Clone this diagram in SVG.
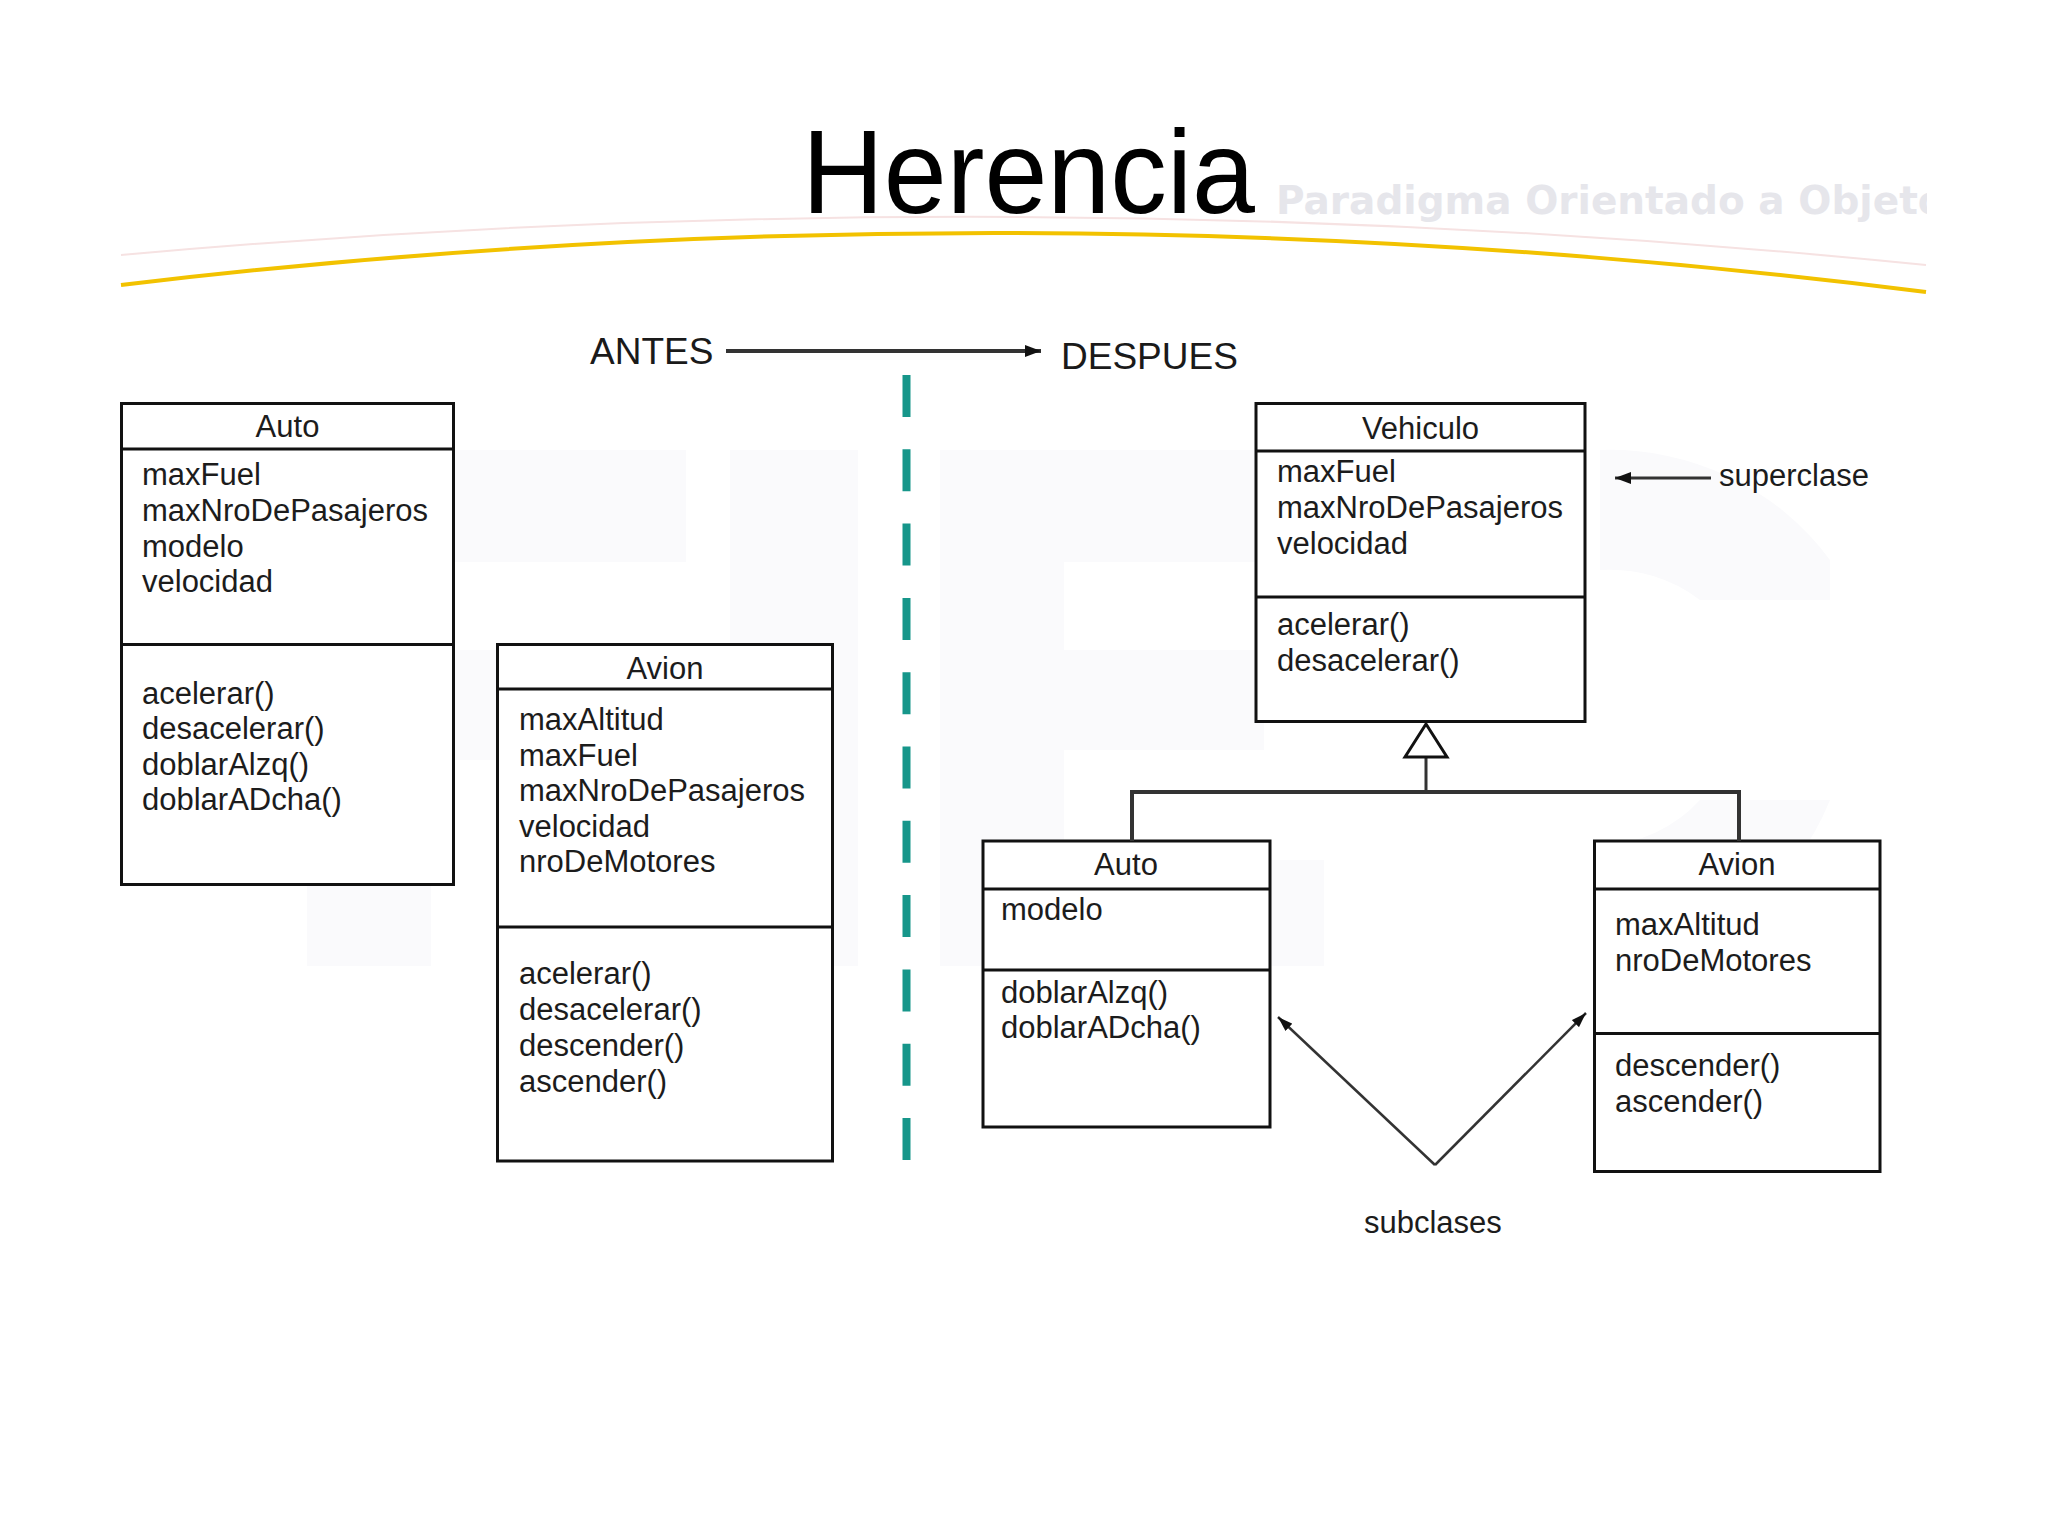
<svg xmlns="http://www.w3.org/2000/svg" width="2048" height="1536" viewBox="0 0 2048 1536">
<defs>
<style>
.box{fill:#ffffff;stroke:#111;stroke-width:3}
.div{stroke:#111;stroke-width:3}
.t{font-family:"Liberation Sans",Arial,sans-serif;font-size:31px;fill:#1c1c1c}
.h{text-anchor:middle}
.lbl{font-family:"Liberation Sans",Arial,sans-serif;font-size:37px;fill:#1a1a1a}
.wm{fill:#fafafc}
.con{stroke:#333;fill:none}
</style>
<marker id="arr" viewBox="0 0 16 12" refX="16" refY="6" markerWidth="16" markerHeight="12" markerUnits="userSpaceOnUse" orient="auto">
<path d="M0,0 L16,6 L0,12 z" fill="#111"/>
</marker>
<marker id="arrs" viewBox="0 0 15 10" refX="15" refY="5" markerWidth="15" markerHeight="10" markerUnits="userSpaceOnUse" orient="auto">
<path d="M0,0 L15,5 L0,10 z" fill="#111"/>
</marker>
<clipPath id="subclip"><rect x="1200" y="150" width="727" height="100"/></clipPath>
</defs>
<rect width="2048" height="1536" fill="#ffffff"/>
<g id="watermark">
<rect class="wm" x="307" y="450" width="124" height="516"/>
<rect class="wm" x="431" y="450" width="255" height="112"/>
<rect class="wm" x="431" y="650" width="170" height="110"/>
<rect class="wm" x="730" y="450" width="128" height="516"/>
<rect class="wm" x="940" y="450" width="124" height="516"/>
<rect class="wm" x="1064" y="450" width="260" height="112"/>
<rect class="wm" x="1064" y="650" width="200" height="100"/>
<rect class="wm" x="1064" y="860" width="260" height="106"/>
<path class="wm" d="M1600,450 A270,260 0 0 1 1830,560 L1830,600 L1700,600 A140,130 0 0 0 1600,570 Z"/>
<path class="wm" d="M1700,800 L1830,800 A270,260 0 0 1 1600,966 L1600,846 A140,130 0 0 0 1700,800 Z"/>
</g>
<g id="header">
<path d="M121,255 Q1020,174 1926,265" fill="none" stroke="#f6e2e2" stroke-width="2"/>
<path d="M121,285 Q1020,177.5 1926,292" fill="none" stroke="#f2c200" stroke-width="4"/>
<text x="802" y="213" font-family="Liberation Sans, Arial, sans-serif" font-size="118" textLength="453" lengthAdjust="spacingAndGlyphs" fill="#000">Herencia</text>
<text x="1276" y="214" clip-path="url(#subclip)" font-family="DejaVu Sans, Verdana, sans-serif" font-weight="bold" font-size="39" fill="#e6e6eb">Paradigma Orientado a Objetos</text>
</g>
<g id="antes-label"><text class="lbl" x="590" y="364">ANTES</text></g>
<g id="despues-label"><text class="lbl" x="1061" y="369" font-size="36">DESPUES</text></g>
<g id="separator">
<line x1="906.5" y1="375" x2="906.5" y2="1160" stroke="#16968a" stroke-width="8" stroke-dasharray="42 32.3"/>
</g>
<g id="auto-antes">
<rect class="box" x="121.5" y="403.5" width="332" height="481"/>
<line class="div" x1="121.5" y1="449" x2="453.5" y2="449"/>
<line class="div" x1="121.5" y1="644.5" x2="453.5" y2="644.5"/>
<text class="t h" x="287.5" y="437">Auto</text>
<text class="t" x="142" y="485">maxFuel</text>
<text class="t" x="142" y="521">maxNroDePasajeros</text>
<text class="t" x="142" y="557">modelo</text>
<text class="t" x="142" y="592">velocidad</text>
<text class="t" x="142" y="704">acelerar()</text>
<text class="t" x="142" y="739">desacelerar()</text>
<text class="t" x="142" y="775">doblarAlzq()</text>
<text class="t" x="142" y="810">doblarADcha()</text>
</g>
<g id="avion-antes">
<rect class="box" x="497.5" y="644.5" width="335" height="516.5"/>
<line class="div" x1="497.5" y1="689" x2="832.5" y2="689"/>
<line class="div" x1="497.5" y1="927" x2="832.5" y2="927"/>
<text class="t h" x="665" y="679">Avion</text>
<text class="t" x="519" y="730">maxAltitud</text>
<text class="t" x="519" y="765.5">maxFuel</text>
<text class="t" x="519" y="801">maxNroDePasajeros</text>
<text class="t" x="519" y="837">velocidad</text>
<text class="t" x="519" y="872">nroDeMotores</text>
<text class="t" x="519" y="984">acelerar()</text>
<text class="t" x="519" y="1020">desacelerar()</text>
<text class="t" x="519" y="1056">descender()</text>
<text class="t" x="519" y="1091.5">ascender()</text>
</g>
<g id="vehiculo">
<rect class="box" x="1256" y="403.5" width="329" height="318"/>
<line class="div" x1="1256" y1="451" x2="1585" y2="451"/>
<line class="div" x1="1256" y1="597" x2="1585" y2="597"/>
<text class="t h" x="1420.5" y="439">Vehiculo</text>
<text class="t" x="1277" y="482">maxFuel</text>
<text class="t" x="1277" y="518">maxNroDePasajeros</text>
<text class="t" x="1277" y="554">velocidad</text>
<text class="t" x="1277" y="635">acelerar()</text>
<text class="t" x="1277" y="671">desacelerar()</text>
</g>
<g id="auto-despues">
<rect class="box" x="983" y="841" width="287" height="286"/>
<line class="div" x1="983" y1="889" x2="1270" y2="889"/>
<line class="div" x1="983" y1="970" x2="1270" y2="970"/>
<text class="t h" x="1126" y="875">Auto</text>
<text class="t" x="1001" y="920">modelo</text>
<text class="t" x="1001" y="1002.5">doblarAlzq()</text>
<text class="t" x="1001" y="1038">doblarADcha()</text>
</g>
<g id="avion-despues">
<rect class="box" x="1594.5" y="841" width="285.5" height="330.5"/>
<line class="div" x1="1594.5" y1="889" x2="1880" y2="889"/>
<line class="div" x1="1594.5" y1="1033.5" x2="1880" y2="1033.5"/>
<text class="t h" x="1737" y="875">Avion</text>
<text class="t" x="1615" y="935">maxAltitud</text>
<text class="t" x="1615" y="970.5">nroDeMotores</text>
<text class="t" x="1615" y="1076">descender()</text>
<text class="t" x="1615" y="1111.5">ascender()</text>
</g>
<g id="superclase-label"><text class="t" x="1719" y="486">superclase</text></g>
<g id="subclases-label"><text class="t" x="1364" y="1233">subclases</text></g>
<g id="connectors">
<line class="con" x1="726" y1="351" x2="1041" y2="351" stroke-width="4" marker-end="url(#arr)"/>
<line class="con" x1="1711" y1="478" x2="1615" y2="478" stroke-width="3" marker-end="url(#arr)"/>
<line class="con" x1="1426" y1="757" x2="1426" y2="792" stroke="#111" stroke-width="3"/>
<path class="con" d="M1132,841 L1132,792 L1739,792 L1739,841" stroke="#111" stroke-width="4"/>
<polygon points="1426,724 1405,757 1447,757" fill="#fff" stroke="#111" stroke-width="3"/>
<line class="con" x1="1435" y1="1165" x2="1278" y2="1017" stroke-width="2.5" marker-end="url(#arrs)"/>
<line class="con" x1="1435" y1="1165" x2="1586" y2="1013" stroke-width="2.5" marker-end="url(#arrs)"/>
</g>
</svg>
